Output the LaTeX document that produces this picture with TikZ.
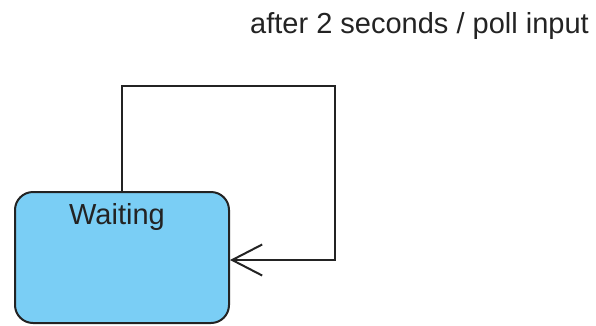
\documentclass[tikz,border=0pt]{standalone}
\usepackage{fontspec}
\setmainfont{Liberation Sans}
\usetikzlibrary{arrows.meta}
\definecolor{statefill}{RGB}{122,206,245}
\definecolor{ink}{RGB}{35,35,35}
\begin{document}
\begin{tikzpicture}[x=1pt,y=-1pt,
  statebox/.style={draw=ink, line width=2pt, fill=statefill, rounded corners=18pt,
    minimum width=214pt, minimum height=131pt, inner sep=0pt},
  flow/.style={draw=ink, line width=2pt, -{Straight Barb[length=30pt,width=31pt,line width=2pt]}},
  lbl/.style={font=\fontsize{29}{32}\selectfont, text=ink, inner sep=0pt}]
  \useasboundingbox (0,0) rectangle (596,325);
  % state
  \node[statebox] (w) at (122,257.5) {};
  \node[lbl, anchor=base] (wt) at (117,224) {Waiting};
  % self transition
  \coordinate (turn) at (335,86);
  \draw[flow] (w.north) |- (turn) |- ([yshift=-2.5pt]w.east);
  % transition label
  \node[lbl, anchor=base west] (t) at (250,33) {after 2 seconds / poll input};
\end{tikzpicture}
\end{document}
